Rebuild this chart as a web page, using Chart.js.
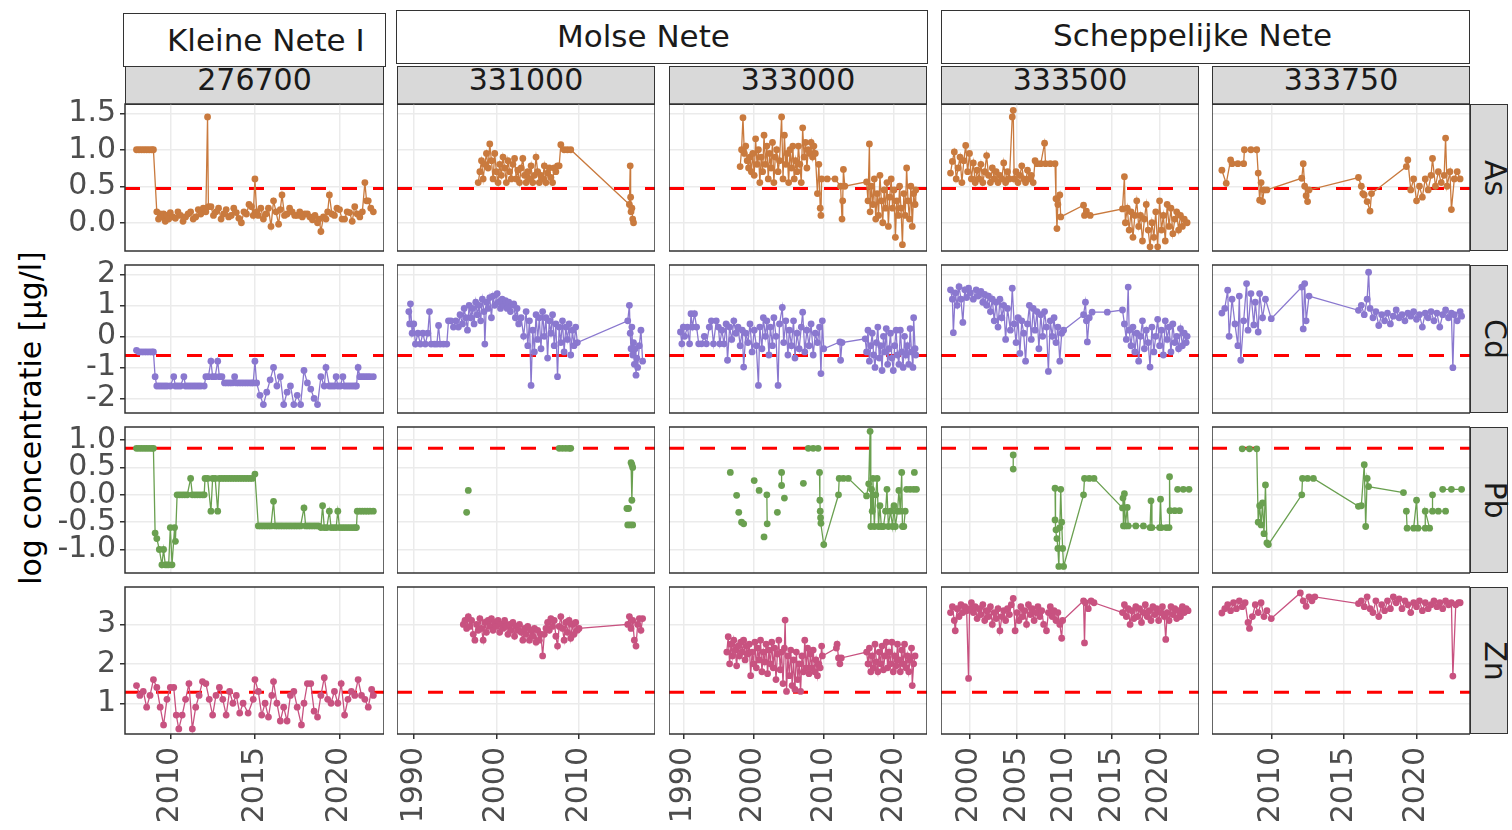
<!DOCTYPE html>
<html>
<head>
<meta charset="utf-8">
<script src="https://cdn.jsdelivr.net/npm/chart.js@4.4.1/dist/chart.umd.min.js"></script>
<style>
  body { margin: 0; background: #fff; font-family: 'DejaVu Sans', sans-serif; }
  #page { position: relative; width: 1512px; height: 830px; overflow: hidden; }
  .box { position: absolute; box-sizing: border-box; }
  .txt { position: absolute; white-space: nowrap; }
  canvas { position: absolute; }
</style>
</head>
<body>
<div id="page"></div>
<script>
// ---- data: [decimal year, log10 concentration], null = gap in the line ----

// As
const as276700 = [[2008.0,1.0],[2008.15,1.0],[2008.3,1.0],[2008.45,1.0],[2008.6,1.0],[2008.75,1.0],[2008.9,1.0],[2009.0,1.0],[2009.2,0.15],[2009.3,0.05],[2009.4,0.12],[2009.5,0.08],[2009.6,0.12],[2009.7,0.02],[2009.8,0.1],[2009.9,0.05],[2010.0,0.14],[2010.15,0.08],[2010.3,0.06],[2010.45,0.15],[2010.6,0.1],[2010.75,0.02],[2010.9,0.08],[2011.05,0.12],[2011.2,0.15],[2011.35,0.05],[2011.5,0.08],[2011.65,0.18],[2011.8,0.12],[2011.95,0.2],[2012.1,0.15],[2012.2,1.45],[2012.25,0.22],[2012.4,0.22],[2012.55,0.1],[2012.7,0.15],[2012.85,0.2],[2013.0,0.05],[2013.15,0.12],[2013.3,0.18],[2013.45,0.08],[2013.6,0.1],[2013.75,0.2],[2013.9,0.14],[2014.05,0.06],[2014.2,0.0],[2014.35,0.15],[2014.5,0.12],[2014.65,0.25],[2014.8,0.22],[2014.9,0.1],[2015.0,0.6],[2015.1,0.15],[2015.2,0.1],[2015.35,0.2],[2015.5,0.05],[2015.65,0.12],[2015.8,0.2],[2015.95,-0.05],[2016.1,0.3],[2016.25,0.15],[2016.4,-0.02],[2016.5,0.18],[2016.6,0.38],[2016.75,0.1],[2016.9,0.12],[2017.05,0.2],[2017.2,0.15],[2017.35,0.1],[2017.5,0.1],[2017.65,0.15],[2017.8,0.08],[2017.95,0.12],[2018.1,0.12],[2018.25,0.08],[2018.4,0.04],[2018.55,0.1],[2018.7,0.0],[2018.8,0.05],[2018.9,-0.12],[2019.05,0.08],[2019.2,0.05],[2019.3,0.15],[2019.4,0.38],[2019.55,0.12],[2019.7,0.1],[2019.85,0.2],[2020.0,0.18],[2020.15,0.05],[2020.3,0.05],[2020.45,0.15],[2020.6,0.14],[2020.75,0.02],[2020.9,0.22],[2021.05,0.12],[2021.2,0.08],[2021.35,0.15],[2021.5,0.55],[2021.6,0.3],[2021.7,0.3],[2021.85,0.2],[2022.0,0.15]];
const as331000 = [[1997.8,0.55],[1998.0,0.7],[1998.2,0.85],[1998.4,0.6],[1998.6,0.8],[1998.8,0.95],[1999.0,0.75],[1999.2,1.08],[1999.4,0.85],[1999.6,0.6],[1999.8,0.95],[2000.0,0.7],[2000.2,0.55],[2000.4,0.8],[2000.6,0.65],[2000.8,0.9],[2001.0,0.75],[2001.2,0.55],[2001.4,0.85],[2001.6,0.7],[2001.8,0.6],[2002.0,0.8],[2002.2,0.88],[2002.4,0.6],[2002.6,0.72],[2002.8,0.55],[2003.0,0.75],[2003.2,0.88],[2003.4,0.65],[2003.6,0.55],[2003.8,0.7],[2004.0,0.6],[2004.2,0.78],[2004.4,0.55],[2004.6,0.65],[2004.8,0.9],[2005.0,0.7],[2005.2,0.55],[2005.4,0.65],[2005.6,0.6],[2005.8,0.78],[2006.0,0.55],[2006.2,0.68],[2006.4,0.75],[2006.6,0.62],[2006.8,0.55],[2007.0,0.75],[2007.2,0.7],[2007.4,0.78],[2007.6,0.78],[2007.8,1.07],[2008.2,1.0],[2008.6,1.0],[2009.0,1.0],[2016.1,0.25],[2016.2,0.78],[2016.25,0.35],[2016.3,0.15],[2016.4,0.2],[2016.5,0.05],[2016.6,0.0]];
const as333000 = [[1998.1,0.77],[1998.3,1.0],[1998.5,1.44],[1998.7,0.95],[1998.9,1.05],[1999.1,0.85],[1999.3,0.75],[1999.5,0.9],[1999.7,0.7],[1999.9,0.95],[2000.1,0.65],[2000.3,1.15],[2000.5,0.8],[2000.7,1.0],[2000.9,0.55],[2001.1,0.9],[2001.3,0.7],[2001.5,1.2],[2001.7,0.8],[2001.9,1.05],[2002.1,0.6],[2002.3,0.95],[2002.5,0.75],[2002.7,1.1],[2002.9,0.55],[2003.1,0.9],[2003.3,1.0],[2003.5,0.7],[2003.7,0.85],[2004.0,1.45],[2004.2,0.6],[2004.4,1.2],[2004.6,0.8],[2004.8,0.95],[2005.0,0.55],[2005.2,1.0],[2005.4,0.75],[2005.6,1.05],[2005.8,0.6],[2006.0,0.85],[2006.2,0.7],[2006.4,1.05],[2006.6,0.8],[2006.8,0.55],[2007.0,1.3],[2007.2,0.9],[2007.4,1.1],[2007.6,0.75],[2007.8,1.0],[2008.0,0.95],[2008.2,1.1],[2008.4,0.9],[2008.6,1.05],[2008.8,0.95],[2009.1,0.4],[2009.3,0.8],[2009.5,0.2],[2009.6,0.1],[2009.7,0.6],[2010.5,0.6],[2011.6,0.6],[2012.4,0.5],[2012.6,0.05],[2012.7,0.3],[2012.8,0.73],[2013.0,0.5],[2016.1,0.56],[2016.3,0.3],[2016.5,1.08],[2016.6,0.15],[2016.8,0.5],[2017.0,0.25],[2017.2,0.6],[2017.4,0.05],[2017.6,0.4],[2017.8,0.1],[2018.0,0.65],[2018.2,0.3],[2018.4,0.0],[2018.6,0.45],[2018.8,0.2],[2019.0,0.55],[2019.2,-0.05],[2019.4,0.35],[2019.6,0.6],[2019.8,0.2],[2020.0,0.45],[2020.2,-0.2],[2020.4,0.3],[2020.6,0.1],[2020.8,0.5],[2021.0,0.2],[2021.2,-0.3],[2021.4,0.4],[2021.6,0.1],[2021.8,0.75],[2022.0,0.3],[2022.2,0.05],[2022.4,0.5],[2022.6,-0.05],[2022.8,0.4],[2023.0,0.25],[2023.1,0.45]];
const as333500 = [[1998.0,0.68],[1998.2,0.84],[1998.4,0.97],[1998.6,0.6],[1998.8,0.75],[1999.0,0.9],[1999.2,0.55],[1999.4,0.85],[1999.6,1.06],[1999.8,0.7],[2000.0,0.95],[2000.2,0.6],[2000.4,0.82],[2000.6,0.55],[2000.8,0.72],[2001.0,0.6],[2001.2,0.8],[2001.4,0.55],[2001.6,0.7],[2001.8,0.92],[2002.0,0.65],[2002.2,0.55],[2002.4,0.75],[2002.6,0.6],[2002.8,0.7],[2003.0,0.55],[2003.2,0.65],[2003.4,0.6],[2003.6,0.82],[2003.8,0.55],[2004.0,0.7],[2004.2,0.6],[2004.5,1.45],[2004.6,1.54],[2004.7,0.6],[2004.9,0.7],[2005.1,0.55],[2005.3,0.65],[2005.5,0.78],[2005.7,0.6],[2005.9,0.55],[2006.1,0.72],[2006.3,0.6],[2006.5,0.65],[2006.7,0.55],[2006.9,0.85],[2007.1,0.81],[2007.5,0.81],[2007.9,1.09],[2008.0,0.81],[2008.5,0.81],[2009.0,0.81],[2009.1,0.33],[2009.2,-0.08],[2009.3,0.25],[2009.5,0.38],[2009.6,0.08],[2012.0,0.24],[2012.1,0.1],[2012.3,0.16],[2012.7,0.1],[2016.1,0.19],[2016.3,0.63],[2016.4,0.0],[2016.6,0.2],[2016.8,-0.1],[2017.0,0.15],[2017.2,-0.2],[2017.4,0.1],[2017.6,0.3],[2017.8,-0.05],[2018.0,0.1],[2018.2,-0.25],[2018.4,0.05],[2018.6,0.25],[2018.8,-0.1],[2019.0,-0.33],[2019.2,0.0],[2019.4,-0.2],[2019.6,0.15],[2019.8,-0.33],[2020.0,0.3],[2020.2,-0.1],[2020.4,0.1],[2020.6,-0.25],[2020.8,0.25],[2021.0,-0.05],[2021.2,0.2],[2021.4,-0.15],[2021.6,0.05],[2021.8,0.15],[2022.0,-0.1],[2022.2,0.1],[2022.4,-0.05],[2022.6,0.05],[2022.9,0.0]];
const as333750 = [[2006.6,0.72],[2006.9,0.54],[2007.2,0.86],[2007.3,0.81],[2007.7,0.81],[2008.1,0.81],[2008.15,1.0],[2008.6,1.0],[2009.0,1.0],[2009.1,0.68],[2009.2,0.31],[2009.3,0.55],[2009.4,0.29],[2009.5,0.45],[2009.7,0.45],[2012.1,0.61],[2012.2,0.81],[2012.3,0.5],[2012.4,0.37],[2012.5,0.29],[2012.6,0.45],[2016.0,0.62],[2016.2,0.5],[2016.3,0.4],[2016.4,0.38],[2016.6,0.29],[2016.8,0.16],[2016.9,0.4],[2019.3,0.77],[2019.4,0.86],[2019.6,0.45],[2019.8,0.6],[2020.0,0.3],[2020.2,0.5],[2020.4,0.35],[2020.6,0.6],[2020.8,0.45],[2021.0,0.65],[2021.1,0.88],[2021.3,0.5],[2021.5,0.7],[2021.7,0.55],[2021.9,0.65],[2022.0,1.16],[2022.1,0.5],[2022.3,0.7],[2022.4,0.18],[2022.6,0.6],[2022.8,0.7],[2023.0,0.6]];

// Cd
const cd276700 = [[2008.0,-0.45],[2008.15,-0.5],[2008.3,-0.5],[2008.45,-0.5],[2008.6,-0.5],[2008.75,-0.5],[2008.9,-0.5],[2009.0,-0.5],[2009.1,-1.3],[2009.2,-1.6],[2009.35,-1.6],[2009.5,-1.6],[2009.65,-1.6],[2009.8,-1.6],[2010.0,-1.6],[2010.2,-1.3],[2010.3,-1.6],[2010.45,-1.6],[2010.6,-1.6],[2010.8,-1.3],[2010.9,-1.6],[2011.05,-1.6],[2011.2,-1.6],[2011.35,-1.6],[2011.5,-1.6],[2011.65,-1.6],[2011.8,-1.6],[2012.0,-1.6],[2012.1,-1.3],[2012.25,-1.3],[2012.4,-0.8],[2012.5,-1.3],[2012.65,-1.3],[2012.8,-0.8],[2012.9,-1.3],[2013.05,-1.3],[2013.2,-1.5],[2013.35,-1.5],[2013.5,-1.5],[2013.65,-1.5],[2013.8,-1.3],[2013.9,-1.5],[2014.05,-1.5],[2014.2,-1.5],[2014.35,-1.5],[2014.5,-1.5],[2014.65,-1.5],[2014.8,-1.5],[2014.9,-1.5],[2015.0,-0.8],[2015.1,-1.5],[2015.3,-1.9],[2015.5,-2.2],[2015.7,-1.8],[2015.9,-1.4],[2016.1,-1.0],[2016.3,-1.6],[2016.5,-1.3],[2016.7,-2.2],[2016.9,-1.8],[2017.1,-1.6],[2017.3,-2.2],[2017.5,-1.9],[2017.7,-2.2],[2017.9,-1.1],[2018.1,-1.5],[2018.3,-1.7],[2018.5,-2.0],[2018.7,-2.2],[2018.9,-1.3],[2019.1,-1.6],[2019.2,-1.0],[2019.4,-1.6],[2019.55,-1.6],[2019.7,-1.6],[2019.8,-1.3],[2019.9,-1.6],[2020.05,-1.6],[2020.2,-1.3],[2020.3,-1.6],[2020.45,-1.6],[2020.6,-1.6],[2020.75,-1.6],[2020.9,-1.6],[2021.0,-1.6],[2021.1,-1.0],[2021.2,-1.3],[2021.35,-1.3],[2021.5,-1.3],[2021.65,-1.3],[2021.8,-1.3],[2022.0,-1.3]];
const cd331000 = [[1989.4,0.8],[1989.5,0.4],[1989.6,1.05],[1989.8,0.1],[1990.0,0.4],[1990.2,-0.25],[1990.5,0.1],[1990.8,-0.25],[1991.1,0.1],[1991.4,-0.25],[1991.7,0.1],[1991.9,0.8],[1992.1,-0.25],[1992.5,-0.25],[1992.8,-0.25],[1993.0,0.35],[1993.2,-0.25],[1993.6,-0.25],[1994.0,-0.25],[1994.2,0.5],[1994.5,0.5],[1994.8,0.3],[1995.1,0.5],[1995.4,0.3],[1995.6,0.7],[1995.9,0.4],[1996.1,0.9],[1996.3,0.6],[1996.5,0.2],[1996.7,1.0],[1996.9,0.6],[1997.1,0.9],[1997.3,0.4],[1997.5,1.1],[1997.7,0.7],[1997.9,1.0],[1998.1,0.5],[1998.3,1.2],[1998.5,0.8],[1998.6,-0.25],[1998.8,1.1],[1999.0,0.9],[1999.2,1.25],[1999.4,0.6],[1999.6,1.3],[1999.8,1.0],[2000.1,1.38],[2000.3,1.1],[2000.5,0.9],[2000.7,1.2],[2000.9,1.0],[2001.1,1.15],[2001.3,0.9],[2001.5,1.1],[2001.7,0.8],[2001.9,1.0],[2002.1,1.05],[2002.3,0.6],[2002.5,0.9],[2002.7,0.4],[2003.0,0.6],[2003.3,0.0],[2003.6,0.8],[2003.8,-0.3],[2004.0,0.5],[2004.2,-1.58],[2004.4,0.2],[2004.6,-0.5],[2004.8,0.7],[2005.0,-0.1],[2005.2,0.6],[2005.4,-0.4],[2005.6,0.8],[2005.8,0.0],[2006.0,0.6],[2006.2,-0.7],[2006.4,0.5],[2006.6,0.1],[2006.8,0.7],[2007.0,-0.3],[2007.2,0.4],[2007.4,-1.3],[2007.6,0.3],[2007.8,-0.2],[2008.0,0.5],[2008.2,-0.5],[2008.4,0.3],[2008.6,-0.1],[2008.8,0.4],[2009.0,-0.6],[2009.2,0.2],[2009.4,-0.3],[2009.6,0.3],[2009.8,-0.2],[2015.9,0.5],[2016.1,1.0],[2016.2,0.1],[2016.3,-0.4],[2016.4,0.3],[2016.5,-0.6],[2016.6,-0.2],[2016.7,-0.9],[2016.8,-0.4],[2016.9,-1.25],[2017.0,-0.7],[2017.1,-1.0],[2017.3,-0.3],[2017.5,0.2],[2017.7,-0.8]];
const cd333000 = [[1989.6,0.14],[1989.8,-0.24],[1990.0,0.3],[1990.2,0.0],[1990.6,0.3],[1990.9,-0.24],[1991.1,0.73],[1991.3,0.3],[1991.6,0.73],[1991.9,0.3],[1992.2,-0.24],[1992.6,-0.24],[1993.0,0.0],[1993.3,-0.24],[1993.7,0.3],[1994.0,0.5],[1994.3,-0.24],[1994.7,0.5],[1995.0,0.3],[1995.2,-0.24],[1995.5,0.2],[1995.8,-0.24],[1996.1,0.4],[1996.3,-0.77],[1996.6,0.3],[1996.9,-0.1],[1997.2,0.5],[1997.5,0.1],[1997.8,0.3],[1998.1,-0.3],[1998.4,0.2],[1998.6,-0.99],[1998.9,0.1],[1999.2,-0.2],[1999.5,0.4],[1999.8,-0.5],[2000.1,0.2],[2000.4,-0.3],[2000.7,-1.58],[2000.9,0.3],[2001.2,-0.4],[2001.4,0.6],[2001.7,0.0],[2001.9,0.5],[2002.2,-0.6],[2002.4,0.3],[2002.7,-0.3],[2002.9,0.6],[2003.2,0.0],[2003.5,-1.58],[2003.7,0.4],[2004.1,0.93],[2004.3,-0.2],[2004.6,0.5],[2004.9,-0.6],[2005.1,0.2],[2005.4,-0.3],[2005.7,0.5],[2005.9,-0.7],[2006.2,0.1],[2006.5,-0.4],[2006.8,0.3],[2007.0,0.78],[2007.3,-0.5],[2007.6,0.2],[2007.9,-0.3],[2008.2,0.4],[2008.5,-0.6],[2008.8,0.1],[2009.1,-0.2],[2009.4,0.3],[2009.6,-1.2],[2009.8,0.5],[2010.0,-0.4],[2012.3,-0.18],[2012.4,-0.77],[2012.6,-0.2],[2015.9,-0.08],[2016.1,-0.5],[2016.3,0.2],[2016.5,-0.8],[2016.7,-0.3],[2016.9,0.1],[2017.1,-0.6],[2017.3,-1.0],[2017.5,-0.2],[2017.7,0.3],[2017.9,-0.7],[2018.1,-0.3],[2018.3,-1.1],[2018.5,0.0],[2018.7,-0.5],[2018.9,0.25],[2019.1,-0.9],[2019.3,-0.4],[2019.5,0.1],[2019.7,-0.7],[2019.9,-1.1],[2020.1,-0.3],[2020.3,0.2],[2020.5,-0.6],[2020.7,-0.9],[2020.9,0.2],[2021.1,-0.5],[2021.3,-1.0],[2021.5,0.0],[2021.7,-0.6],[2021.9,-0.3],[2022.1,-0.9],[2022.3,0.25],[2022.5,-0.5],[2022.7,-1.0],[2022.8,0.6],[2023.0,-0.4],[2023.1,-0.6]];
const cd333500 = [[1998.0,1.5],[1998.2,1.2],[1998.3,0.12],[1998.5,1.4],[1998.7,1.0],[1998.9,1.6],[1999.1,1.2],[1999.3,0.45],[1999.5,1.5],[1999.7,1.25],[1999.9,1.55],[2000.1,1.4],[2000.4,1.2],[2000.7,1.5],[2000.9,1.3],[2001.2,1.45],[2001.4,1.1],[2001.6,1.35],[2001.8,1.0],[2002.0,1.3],[2002.2,0.8],[2002.4,1.2],[2002.6,0.5],[2002.8,1.1],[2003.0,0.3],[2003.2,1.2],[2003.4,0.6],[2003.6,1.0],[2003.8,-0.1],[2004.0,0.9],[2004.3,0.2],[2004.5,1.55],[2004.7,0.4],[2004.9,-0.2],[2005.1,0.6],[2005.3,-0.55],[2005.5,0.5],[2005.7,0.1],[2005.9,-0.8],[2006.1,0.4],[2006.3,1.0],[2006.5,-0.1],[2006.7,0.9],[2006.9,0.2],[2007.1,0.8],[2007.3,-0.4],[2007.5,0.7],[2007.7,0.0],[2007.9,0.8],[2008.1,0.3],[2008.3,-1.13],[2008.5,0.5],[2008.7,0.0],[2008.9,0.6],[2009.1,-0.2],[2009.3,0.3],[2009.5,-0.8],[2009.7,0.1],[2009.9,0.2],[2012.0,0.7],[2012.2,1.1],[2012.3,0.5],[2012.4,-0.18],[2012.6,0.6],[2012.9,0.78],[2014.5,0.78],[2016.1,0.85],[2016.3,0.4],[2016.5,-0.1],[2016.7,1.59],[2016.8,0.2],[2017.0,-0.3],[2017.2,0.3],[2017.4,-0.5],[2017.6,0.1],[2017.8,-0.8],[2018.0,0.0],[2018.2,0.5],[2018.4,-0.4],[2018.6,0.2],[2018.8,-0.2],[2019.0,-0.99],[2019.2,0.3],[2019.4,-0.5],[2019.6,0.0],[2019.8,0.55],[2020.0,-0.3],[2020.2,0.2],[2020.4,-0.6],[2020.6,0.5],[2020.8,-0.1],[2021.0,0.3],[2021.2,-0.5],[2021.4,0.4],[2021.6,-0.2],[2021.8,0.0],[2022.0,-0.4],[2022.2,0.25],[2022.4,-0.3],[2022.6,0.1],[2022.8,-0.2],[2022.9,0.0]];
const cd333750 = [[2006.6,0.75],[2006.8,0.9],[2007.0,1.49],[2007.1,0.0],[2007.3,1.2],[2007.5,0.4],[2007.7,-0.3],[2007.8,1.3],[2007.9,-0.77],[2008.1,0.5],[2008.3,1.7],[2008.4,0.2],[2008.6,1.38],[2008.8,0.37],[2008.9,1.1],[2009.1,0.14],[2009.2,1.38],[2009.4,0.6],[2009.6,1.2],[2010.0,0.57],[2012.1,1.59],[2012.2,0.24],[2012.3,1.7],[2012.4,0.5],[2012.6,1.3],[2016.0,0.84],[2016.2,1.0],[2016.4,0.7],[2016.6,1.2],[2016.7,2.07],[2016.8,0.9],[2017.0,0.6],[2017.2,0.8],[2017.4,0.35],[2017.6,0.7],[2017.8,0.5],[2018.0,0.75],[2018.2,0.4],[2018.4,0.65],[2018.6,0.85],[2018.8,0.6],[2019.0,0.7],[2019.2,0.5],[2019.4,0.75],[2019.6,0.65],[2019.8,0.8],[2020.0,0.55],[2020.2,0.7],[2020.4,0.3],[2020.6,0.75],[2020.8,0.6],[2021.0,0.8],[2021.2,0.5],[2021.4,0.75],[2021.6,0.3],[2021.8,0.7],[2022.0,0.85],[2022.2,0.6],[2022.4,0.75],[2022.5,-1.01],[2022.6,0.7],[2022.8,0.5],[2023.0,0.8],[2023.1,0.65]];

// Pb
const pb276700 = [[2008.0,0.85],[2008.15,0.85],[2008.3,0.85],[2008.45,0.85],[2008.6,0.85],[2008.75,0.85],[2008.9,0.85],[2009.0,0.85],[2009.1,-0.7],[2009.2,-0.8],[2009.35,-1.0],[2009.5,-1.28],[2009.6,-1.0],[2009.7,-1.28],[2009.8,-1.28],[2009.9,-1.28],[2010.0,-0.6],[2010.1,-1.28],[2010.25,-0.6],[2010.3,-0.85],[2010.4,0.0],[2010.55,0.0],[2010.7,0.0],[2010.85,0.0],[2011.0,0.0],[2011.2,0.3],[2011.3,0.0],[2011.45,0.0],[2011.6,0.0],[2011.75,0.0],[2011.9,0.0],[2012.0,0.0],[2012.05,0.3],[2012.2,0.3],[2012.4,-0.3],[2012.5,0.3],[2012.65,0.3],[2012.8,-0.3],[2012.9,0.3],[2013.05,0.3],[2013.2,0.3],[2013.35,0.3],[2013.5,0.3],[2013.65,0.3],[2013.8,0.3],[2013.95,0.3],[2014.1,0.3],[2014.25,0.3],[2014.4,0.3],[2014.55,0.3],[2014.7,0.3],[2014.85,0.3],[2015.0,0.38],[2015.2,-0.57],[2015.35,-0.57],[2015.5,-0.57],[2015.65,-0.57],[2015.8,-0.57],[2015.95,-0.57],[2016.1,-0.12],[2016.2,-0.57],[2016.35,-0.57],[2016.5,-0.57],[2016.65,-0.57],[2016.8,-0.57],[2016.95,-0.57],[2017.1,-0.57],[2017.25,-0.57],[2017.4,-0.57],[2017.55,-0.57],[2017.7,-0.57],[2017.9,-0.24],[2018.0,-0.57],[2018.15,-0.57],[2018.3,-0.57],[2018.45,-0.57],[2018.6,-0.57],[2018.75,-0.57],[2018.9,-0.6],[2019.0,-0.2],[2019.1,-0.6],[2019.25,-0.6],[2019.4,-0.3],[2019.5,-0.6],[2019.65,-0.6],[2019.8,-0.6],[2019.9,-0.3],[2020.0,-0.6],[2020.15,-0.6],[2020.3,-0.6],[2020.45,-0.6],[2020.6,-0.6],[2020.75,-0.6],[2020.9,-0.6],[2021.0,-0.6],[2021.05,-0.3],[2021.2,-0.3],[2021.35,-0.3],[2021.5,-0.3],[2021.65,-0.3],[2021.8,-0.3],[2022.0,-0.3]];
const pb331000 = [[1996.4,-0.32],[1996.5,null],[1996.6,0.08],[1996.7,null],[2007.6,0.85],[2008.0,0.85],[2008.4,0.85],[2008.8,0.85],[2009.0,0.85],[2009.1,null],[2015.8,-0.25],[2016.0,-0.25],[2016.1,null],[2015.9,-0.55],[2016.2,-0.55],[2016.5,-0.55],[2016.6,null],[2016.3,0.59],[2016.4,0.55],[2016.4,-0.1],[2016.5,0.5]];
const pb333000 = [[1996.7,0.41],[1996.8,null],[1997.6,-0.01],[1997.7,null],[1997.9,-0.32],[1998.0,null],[1998.3,-0.5],[1998.6,-0.53],[1998.7,null],[2000.1,0.26],[2000.2,null],[2000.8,0.08],[2000.9,null],[2001.5,-0.77],[2001.6,null],[2001.9,0.0],[2001.95,-0.53],[2002.0,null],[2003.4,-0.32],[2003.5,null],[2004.0,0.41],[2004.0,0.17],[2004.1,null],[2004.4,-0.06],[2004.5,null],[2007.1,0.21],[2007.2,null],[2007.8,0.85],[2008.5,0.85],[2009.2,0.85],[2009.3,null],[2009.4,0.41],[2009.45,-0.1],[2009.5,-0.3],[2009.55,-0.42],[2009.6,-0.52],[2010.0,-0.91],[2012.1,0.0],[2012.2,0.3],[2012.8,0.3],[2013.5,0.3],[2016.1,-0.02],[2016.4,0.2],[2016.6,1.16],[2016.7,-0.58],[2016.8,0.1],[2016.9,-0.3],[2017.0,0.3],[2017.2,-0.58],[2017.4,0.0],[2017.6,0.3],[2017.8,-0.58],[2018.0,-0.2],[2018.2,-0.58],[2018.5,-0.58],[2018.8,-0.3],[2019.0,0.1],[2019.2,-0.58],[2019.5,-0.3],[2019.8,-0.58],[2020.0,-0.2],[2020.2,-0.58],[2020.5,-0.3],[2020.7,0.08],[2020.9,-0.3],[2021.1,0.41],[2021.2,-0.58],[2021.4,-0.58],[2021.6,-0.3],[2021.7,null],[2021.8,0.1],[2022.3,0.1],[2022.8,0.1],[2023.2,0.1],[2023.3,null],[2022.9,0.41]];
const pb333500 = [[2004.6,0.73],[2004.6,0.47],[2004.7,null],[2009.0,0.12],[2009.0,-0.46],[2009.1,-0.64],[2009.2,-0.8],[2009.3,-0.98],[2009.4,-1.31],[2009.5,-0.6],[2009.6,0.1],[2009.7,-0.5],[2009.8,-0.98],[2009.9,-1.31],[2012.0,0.0],[2012.1,0.3],[2012.6,0.3],[2013.1,0.3],[2016.1,-0.24],[2016.15,-0.06],[2016.2,-0.57],[2016.3,0.02],[2016.4,-0.57],[2016.6,-0.23],[2016.7,-0.57],[2017.5,-0.57],[2018.3,-0.57],[2019.0,-0.6],[2019.1,-0.11],[2019.2,-0.6],[2020.0,-0.6],[2020.1,-0.08],[2020.2,-0.6],[2020.7,-0.6],[2021.0,-0.6],[2021.05,0.33],[2021.1,-0.29],[2021.6,-0.29],[2022.1,-0.29],[2022.2,null],[2021.9,0.1],[2022.5,0.1],[2023.1,0.1]];
const pb333750 = [[2008.0,0.84],[2008.5,0.84],[2009.0,0.84],[2009.1,-0.5],[2009.2,-0.2],[2009.3,-0.55],[2009.4,-0.15],[2009.5,-0.71],[2009.6,0.18],[2009.7,-0.88],[2009.8,-0.91],[2012.1,0.0],[2012.15,0.3],[2012.5,0.3],[2012.9,0.3],[2016.0,-0.21],[2016.2,-0.2],[2016.4,0.55],[2016.5,-0.58],[2016.6,0.3],[2016.7,0.15],[2019.1,0.04],[2019.2,null],[2019.3,-0.3],[2019.35,-0.61],[2019.8,-0.61],[2020.0,-0.1],[2020.1,-0.61],[2020.6,-0.61],[2020.6,-0.3],[2020.9,-0.61],[2021.0,null],[2021.1,0.0],[2021.1,-0.3],[2021.5,-0.3],[2022.0,-0.3],[2022.1,null],[2021.8,0.1],[2022.4,0.1],[2023.1,0.1]];

// Zn
const zn276700 = [[2008.0,1.45],[2008.2,1.2],[2008.4,1.3],[2008.6,0.9],[2008.8,1.2],[2009.0,1.6],[2009.2,1.4],[2009.4,0.9],[2009.6,0.45],[2009.8,1.1],[2010.0,1.4],[2010.2,1.4],[2010.35,0.7],[2010.5,0.35],[2010.7,0.7],[2010.9,1.1],[2011.1,1.5],[2011.3,0.35],[2011.5,0.9],[2011.7,1.2],[2011.9,1.55],[2012.1,1.5],[2012.3,1.1],[2012.5,0.7],[2012.7,1.2],[2012.9,1.4],[2013.1,1.1],[2013.3,0.7],[2013.5,1.3],[2013.7,1.0],[2013.9,1.2],[2014.1,0.75],[2014.3,1.0],[2014.6,0.75],[2014.9,1.1],[2015.0,1.6],[2015.2,1.3],[2015.4,0.7],[2015.6,1.0],[2015.8,0.65],[2016.0,1.2],[2016.1,1.55],[2016.3,1.0],[2016.5,0.55],[2016.7,0.9],[2016.9,0.55],[2017.1,1.2],[2017.3,1.3],[2017.5,0.9],[2017.75,0.45],[2017.9,1.0],[2018.1,1.5],[2018.3,1.5],[2018.5,0.8],[2018.7,0.65],[2018.9,1.2],[2019.1,1.65],[2019.3,1.1],[2019.5,1.0],[2019.7,1.3],[2019.9,1.0],[2020.1,1.5],[2020.3,0.7],[2020.5,1.1],[2020.7,1.3],[2020.9,1.2],[2021.1,1.6],[2021.3,1.2],[2021.5,1.1],[2021.7,0.9],[2021.9,1.35],[2022.0,1.2]];
const zn331000 = [[1996.0,3.0],[1996.2,3.1],[1996.4,2.9],[1996.6,3.2],[1996.8,2.95],[1997.0,3.1],[1997.2,2.75],[1997.4,2.6],[1997.6,3.0],[1997.8,2.85],[1998.0,3.15],[1998.2,2.9],[1998.4,2.6],[1998.6,3.05],[1998.8,2.8],[1999.0,3.1],[1999.2,2.95],[1999.4,3.15],[1999.6,2.85],[1999.8,3.05],[2000.0,2.95],[2000.2,3.1],[2000.4,2.8],[2000.6,3.0],[2000.8,2.9],[2001.0,3.1],[2001.2,2.95],[2001.4,2.75],[2001.6,3.0],[2001.8,2.85],[2002.0,3.05],[2002.2,2.7],[2002.4,2.95],[2002.6,2.85],[2002.8,3.0],[2003.0,2.8],[2003.2,2.6],[2003.4,2.9],[2003.6,2.75],[2003.8,2.95],[2004.0,2.6],[2004.2,2.85],[2004.4,2.7],[2004.6,2.9],[2004.8,2.55],[2005.0,2.85],[2005.2,2.6],[2005.4,2.75],[2005.6,2.2],[2005.8,2.75],[2006.0,2.9],[2006.2,3.05],[2006.4,2.85],[2006.6,3.15],[2006.8,2.95],[2007.0,3.1],[2007.2,2.7],[2007.4,2.45],[2007.6,2.95],[2007.8,3.2],[2008.0,2.9],[2008.2,2.6],[2008.4,3.05],[2008.6,2.8],[2008.8,3.1],[2009.0,2.65],[2009.2,3.0],[2009.4,2.75],[2009.6,3.05],[2009.8,2.85],[2010.0,2.9],[2015.9,3.0],[2016.1,3.2],[2016.3,2.9],[2016.5,3.1],[2016.7,2.6],[2016.9,2.45],[2017.1,3.0],[2017.3,3.15],[2017.5,2.85],[2017.7,3.15]];
const zn333000 = [[1996.2,2.3],[1996.4,2.69],[1996.6,2.0],[1996.8,2.5],[1997.0,2.2],[1997.2,2.6],[1997.4,2.35],[1997.6,1.95],[1997.8,2.45],[1998.0,2.2],[1998.2,2.55],[1998.4,2.3],[1998.6,2.6],[1998.8,2.1],[1999.0,2.45],[1999.2,2.25],[1999.4,2.5],[1999.6,1.7],[1999.8,2.3],[2000.0,2.0],[2000.2,2.55],[2000.4,1.9],[2000.6,2.4],[2000.8,2.1],[2001.0,2.6],[2001.2,1.8],[2001.4,2.3],[2001.6,2.05],[2001.8,2.5],[2002.0,1.75],[2002.2,2.35],[2002.4,2.0],[2002.6,2.55],[2002.8,1.9],[2003.0,2.4],[2003.2,1.6],[2003.4,2.25],[2003.6,2.6],[2003.8,1.85],[2004.0,2.3],[2004.2,1.5],[2004.4,2.4],[2004.5,3.11],[2004.7,1.3],[2004.9,2.2],[2005.1,1.7],[2005.3,2.35],[2005.5,1.45],[2005.7,2.1],[2005.9,1.35],[2006.1,2.3],[2006.3,1.6],[2006.5,2.0],[2006.7,1.3],[2006.9,2.2],[2007.1,1.8],[2007.3,2.6],[2007.5,1.9],[2007.7,2.4],[2007.9,1.75],[2008.1,2.25],[2008.3,1.9],[2008.5,2.35],[2008.7,1.8],[2008.9,2.1],[2009.1,1.7],[2009.3,2.0],[2009.5,1.9],[2009.7,2.45],[2009.8,2.2],[2011.8,2.4],[2011.9,2.5],[2012.1,2.15],[2012.3,2.0],[2012.5,2.15],[2016.1,2.3],[2016.3,2.0],[2016.5,2.4],[2016.7,1.8],[2016.9,2.2],[2017.1,1.9],[2017.3,2.5],[2017.5,2.05],[2017.7,1.8],[2017.9,2.3],[2018.1,2.0],[2018.3,2.45],[2018.5,1.85],[2018.7,2.2],[2018.9,2.55],[2019.1,1.9],[2019.3,2.3],[2019.5,2.0],[2019.7,2.55],[2019.9,1.8],[2020.1,2.2],[2020.3,1.95],[2020.5,2.5],[2020.7,2.1],[2020.9,1.8],[2021.1,2.35],[2021.3,2.0],[2021.5,2.5],[2021.7,1.9],[2021.9,2.2],[2022.1,1.8],[2022.3,2.1],[2022.5,2.4],[2022.6,1.45],[2022.8,2.0],[2023.0,2.2]];
const zn333500 = [[1998.0,3.3],[1998.2,3.45],[1998.4,3.1],[1998.5,2.84],[1998.7,3.4],[1998.9,3.2],[1999.1,3.5],[1999.3,3.3],[1999.5,3.45],[1999.7,3.35],[1999.9,1.63],[2000.0,3.4],[2000.2,3.55],[2000.4,3.3],[2000.6,3.45],[2000.8,3.15],[2001.0,3.4],[2001.2,3.25],[2001.4,3.5],[2001.6,3.1],[2001.8,3.35],[2002.0,3.2],[2002.2,3.45],[2002.4,3.0],[2002.6,3.3],[2002.8,3.15],[2003.0,3.4],[2003.2,2.84],[2003.4,3.2],[2003.6,3.35],[2003.8,3.1],[2004.0,3.4],[2004.2,3.25],[2004.4,3.5],[2004.6,3.66],[2004.8,2.84],[2005.0,3.3],[2005.2,3.1],[2005.4,3.45],[2005.6,3.2],[2005.8,3.35],[2006.0,3.0],[2006.2,3.5],[2006.4,3.25],[2006.6,3.4],[2006.8,3.1],[2007.0,3.3],[2007.2,3.45],[2007.4,3.2],[2007.6,3.35],[2007.8,3.0],[2008.1,2.84],[2008.3,3.3],[2008.5,3.45],[2008.7,3.2],[2008.9,3.35],[2009.1,3.1],[2009.3,3.3],[2009.5,3.0],[2009.7,2.65],[2009.8,3.1],[2012.0,3.6],[2012.1,2.53],[2012.2,3.55],[2012.5,3.4],[2012.8,3.6],[2013.1,3.55],[2016.1,3.3],[2016.3,3.5],[2016.5,3.2],[2016.7,3.4],[2016.9,3.0],[2017.1,3.35],[2017.3,3.15],[2017.5,3.45],[2017.7,3.2],[2017.9,3.4],[2018.1,3.05],[2018.3,3.3],[2018.5,3.5],[2018.7,3.2],[2018.9,3.35],[2019.1,3.1],[2019.3,3.45],[2019.5,3.25],[2019.7,3.4],[2019.9,3.1],[2020.1,3.3],[2020.3,3.45],[2020.5,3.2],[2020.65,2.62],[2020.8,3.3],[2021.0,3.1],[2021.2,3.45],[2021.4,3.25],[2021.6,3.4],[2021.8,3.15],[2022.0,3.35],[2022.2,3.2],[2022.4,3.45],[2022.6,3.3],[2022.8,3.4],[2023.0,3.35]];
const zn333750 = [[2006.6,3.29],[2006.8,3.4],[2007.0,3.5],[2007.2,3.35],[2007.4,3.55],[2007.6,3.4],[2007.8,3.6],[2008.0,3.45],[2008.2,3.55],[2008.4,3.05],[2008.5,2.9],[2008.7,3.2],[2008.9,3.5],[2009.1,3.3],[2009.3,3.55],[2009.5,3.2],[2009.7,3.35],[2010.0,3.15],[2012.0,3.8],[2012.2,3.6],[2012.4,3.46],[2012.6,3.7],[2012.8,3.6],[2013.0,3.7],[2016.0,3.53],[2016.2,3.6],[2016.4,3.45],[2016.6,3.7],[2016.8,3.4],[2017.0,3.3],[2017.2,3.6],[2017.4,3.2],[2017.6,3.5],[2017.8,3.35],[2018.0,3.6],[2018.2,3.4],[2018.4,3.7],[2018.6,3.55],[2018.8,3.65],[2019.0,3.4],[2019.2,3.6],[2019.4,3.5],[2019.6,3.3],[2019.8,3.55],[2020.0,3.45],[2020.2,3.6],[2020.4,3.35],[2020.6,3.55],[2020.8,3.4],[2021.0,3.5],[2021.2,3.6],[2021.4,3.45],[2021.6,3.55],[2021.8,3.4],[2022.0,3.6],[2022.2,3.5],[2022.4,3.55],[2022.5,1.69],[2022.7,3.5],[2022.9,3.55],[2023.0,3.55]];

const stations = ['276700', '331000', '333000', '333500', '333750'];
const metals = ['As', 'Cd', 'Pb', 'Zn'];
const thresholds = [0.47, -0.62, 0.85, 1.28];
const series = [
  [as276700, as331000, as333000, as333500, as333750],
  [cd276700, cd331000, cd333000, cd333500, cd333750],
  [pb276700, pb331000, pb333000, pb333500, pb333750],
  [zn276700, zn331000, zn333000, zn333500, zn333750]
];
const xLimits = [[2007.32, 2022.63], [1987.97, 2019.2], [1987.97, 2024.7], [1997.0, 2024.15], [2005.92, 2023.68]];
const xSteps = [5, 10, 10, 5, 5];
const yLimits = [[-0.387, 1.627], [-2.47, 2.3], [-1.43, 1.24], [0.22, 3.95]];
const ySteps = [0.5, 1, 0.5, 1];
const yDecimals = [1, 0, 1, 0];

// ---- layout ----
const colors = ['#C97A3E', '#8A78CF', '#6AA050', '#C85280'];
const colX = [[125, 384], [397, 655], [669, 927], [941, 1199], [1212, 1470]];
const rowY = [[104, 251], [265, 413], [427, 573], [587, 734]];
const FONT = 'DejaVu Sans';
const page = document.getElementById('page');

function addBox(left, top, w, h, bg) {
  const d = document.createElement('div');
  d.className = 'box';
  Object.assign(d.style, { left: left + 'px', top: top + 'px', width: w + 'px', height: h + 'px',
    background: bg, border: '1.5px solid #333' });
  page.appendChild(d);
}

function addText(text, left, top, size, color, opts = {}) {
  const d = document.createElement('div');
  d.className = 'txt';
  d.textContent = text;
  Object.assign(d.style, { left: left + 'px', top: top + 'px', fontSize: size + 'px',
    lineHeight: size + 'px', color: color }, opts);
  page.appendChild(d);
}

// river group headers
addBox(123, 13, 263, 54, '#fff');
addText('Kleine Nete I', 167, 25, 31, '#1a1a1a');
addBox(396, 10, 532, 54, '#fff');
addText('Molse Nete', 557, 21, 31, '#1a1a1a');
addBox(941, 10, 529, 54, '#fff');
addText('Scheppelijke Nete', 1053, 20, 31, '#1a1a1a');

// station strips on top
stations.forEach((s, c) => {
  const [x0, x1] = colX[c];
  addBox(x0, 66, x1 - x0, 39, '#d9d9d9');
  addText(s, x0, 65, 30, '#1a1a1a', { width: (x1 - x0) + 'px', textAlign: 'center' });
});

// metal strips on the right
metals.forEach((m, r) => {
  const [y0, y1] = rowY[r];
  addBox(1470, y0, 38, y1 - y0, '#d9d9d9');
  addText(m, 1495 - 40, (y0 + y1) / 2 - 15, 30, '#1a1a1a',
    { width: '80px', textAlign: 'center', transform: 'rotate(90deg)' });
});

// y axis title
addText('log concentratie [µg/l]', 30.5 - 200, 418 - 15, 30, '#000',
  { width: '400px', textAlign: 'center', transform: 'rotate(-90deg)' });

// panel border drawn over each plot area
const panelBorder = {
  id: 'panelBorder',
  afterDraw(chart) {
    const { ctx, chartArea: a } = chart;
    ctx.save();
    ctx.strokeStyle = '#333';
    ctx.lineWidth = 1.5;
    ctx.strokeRect(a.left, a.top, a.right - a.left, a.bottom - a.top);
    ctx.restore();
  }
};

function makePanel(r, c) {
  const [x0, x1] = colX[c];
  const [y0, y1] = rowY[r];
  const first = c === 0;
  const bottom = r === 3;
  const padT = 14;
  const padB = bottom ? 0 : 14;
  const axisW = first ? x0 : 0;
  const axisH = bottom ? 830 - y1 : 0;
  const left = first ? 0 : x0;
  const w = x1 - left;
  const h = padT + (y1 - y0) + padB + axisH;

  const cv = document.createElement('canvas');
  cv.width = w;
  cv.height = h;
  Object.assign(cv.style, { left: left + 'px', top: (y0 - padT) + 'px', width: w + 'px', height: h + 'px' });
  page.appendChild(cv);

  const pts = series[r][c].map(([t, v]) => ({ x: t, y: v }));
  const xr = xLimits[c];
  const yr = yLimits[r];
  const tickFont = { family: FONT, size: 30 };

  new Chart(cv, {
    type: 'line',
    data: {
      datasets: [
        {
          data: pts,
          borderColor: colors[r],
          backgroundColor: colors[r],
          borderWidth: 1.3,
          pointRadius: 3.4,
          pointBorderWidth: 0,
          pointHoverRadius: 3.4,
          spanGaps: false,
          tension: 0
        },
        {
          data: [{ x: xr[0], y: thresholds[r] }, { x: xr[1], y: thresholds[r] }],
          borderColor: '#ff0000',
          borderWidth: 3,
          borderDash: [15, 16],
          pointRadius: 0
        }
      ]
    },
    options: {
      responsive: false,
      animation: false,
      devicePixelRatio: 1,
      events: [],
      layout: { autoPadding: false, padding: { top: padT, bottom: padB, left: 0, right: 0 } },
      plugins: { legend: { display: false }, tooltip: { enabled: false } },
      scales: {
        x: {
          type: 'linear',
          min: xr[0],
          max: xr[1],
          afterFit: s => { s.height = axisH; s.paddingLeft = 0; s.paddingRight = 0; },
          border: { display: false },
          grid: { color: '#ebebeb', lineWidth: 1.5, drawTicks: bottom, tickLength: 5, tickColor: '#333', tickWidth: 1.5 },
          ticks: {
            display: bottom, stepSize: xSteps[c], includeBounds: false, autoSkip: false,
            maxRotation: 90, minRotation: 90, padding: 8, color: '#4d4d4d', font: tickFont,
            callback: v => String(Math.round(v))
          }
        },
        y: {
          type: 'linear',
          min: yr[0],
          max: yr[1],
          afterFit: s => { s.width = axisW; s.paddingTop = 0; s.paddingBottom = 0; },
          border: { display: false },
          grid: { color: '#ebebeb', lineWidth: 1.5, drawTicks: first, tickLength: 5, tickColor: '#333', tickWidth: 1.5 },
          ticks: {
            display: first, stepSize: ySteps[r], includeBounds: false, autoSkip: false,
            padding: 4, color: '#4d4d4d', font: tickFont,
            callback: v => Number(v).toFixed(yDecimals[r])
          }
        }
      }
    },
    plugins: [panelBorder]
  });
}

for (let r = 0; r < 4; r++) {
  for (let c = 0; c < 5; c++) {
    makePanel(r, c);
  }
}
</script>
</body>
</html>
